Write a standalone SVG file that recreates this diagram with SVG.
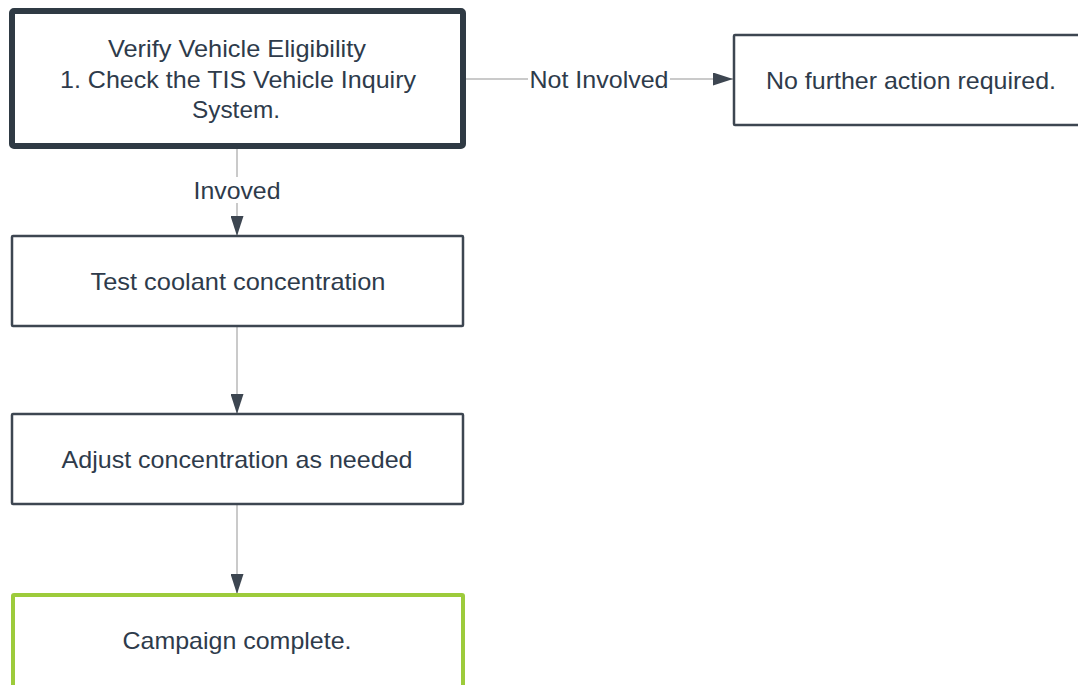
<svg xmlns="http://www.w3.org/2000/svg" width="1078" height="685" viewBox="0 0 1078 685">
<style>
.node rect{fill:#ffffff;stroke:#3d4651;stroke-width:2.5}
.node text{font-family:"Liberation Sans",Arial,sans-serif;font-size:24px;fill:#2e3b4b;text-anchor:middle;dominant-baseline:central}
.edge{stroke:#b8b8b8;stroke-width:1.5;fill:none}
.lbl{font-family:"Liberation Sans",Arial,sans-serif;font-size:24px;fill:#2e3b4b;text-anchor:middle;dominant-baseline:central}
</style>
<defs>
<marker id="ah" markerWidth="20" markerHeight="13" refX="20" refY="6.5" orient="auto" markerUnits="userSpaceOnUse" viewBox="0 0 20 13">
<path d="M0,0 L20,6.5 L0,13 z" fill="#3d4651"/>
</marker>
</defs>
<rect width="1078" height="685" fill="#ffffff"/>
<g id="connectors">
<line class="edge" x1="465" y1="79" x2="528" y2="79"/>
<line class="edge" x1="670" y1="79" x2="733" y2="79" marker-end="url(#ah)"/>
<text class="lbl" x="599" y="79" textLength="139" lengthAdjust="spacingAndGlyphs">Not Involved</text>
<line class="edge" x1="237" y1="149" x2="237" y2="177"/>
<line class="edge" x1="237" y1="203" x2="237" y2="236" marker-end="url(#ah)"/>
<text class="lbl" x="237" y="190" textLength="87" lengthAdjust="spacingAndGlyphs">Invoved</text>
<line class="edge" x1="237" y1="327" x2="237" y2="414" marker-end="url(#ah)"/>
<line class="edge" x1="237" y1="505" x2="237" y2="594" marker-end="url(#ah)"/>
</g>
<g id="node-verify" class="node">
<rect x="12" y="11" width="451" height="135" rx="2" style="stroke:#2f3a44;stroke-width:6"/>
<text x="237" y="48" textLength="258" lengthAdjust="spacingAndGlyphs">Verify Vehicle Eligibility</text>
<text x="238" y="79" textLength="356" lengthAdjust="spacingAndGlyphs">1. Check the TIS Vehicle Inquiry</text>
<text x="236" y="109" textLength="88" lengthAdjust="spacingAndGlyphs">System.</text>
</g>
<g id="node-nofurther" class="node">
<rect x="734" y="35" width="360" height="90" rx="1"/>
<text x="911" y="80" textLength="290" lengthAdjust="spacingAndGlyphs">No further action required.</text>
</g>
<g id="node-test" class="node">
<rect x="12" y="236" width="451" height="90" rx="1"/>
<text x="238" y="281" textLength="295" lengthAdjust="spacingAndGlyphs">Test coolant concentration</text>
</g>
<g id="node-adjust" class="node">
<rect x="12" y="414" width="451" height="90" rx="1"/>
<text x="237" y="459" textLength="351" lengthAdjust="spacingAndGlyphs">Adjust concentration as needed</text>
</g>
<g id="node-complete" class="node">
<rect x="13" y="595" width="450" height="100" rx="1" style="stroke:#9dcb3b;stroke-width:4"/>
<text x="237" y="640" textLength="229" lengthAdjust="spacingAndGlyphs">Campaign complete.</text>
</g>
</svg>
